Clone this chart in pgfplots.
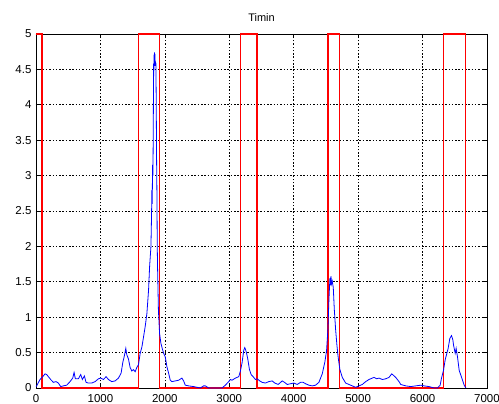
\documentclass[border=0pt]{standalone}
\usepackage{fontspec}
\setmainfont{Liberation Sans}
\usepackage{pgfplots}
\pgfplotsset{compat=1.18}
\definecolor{mred}{RGB}{255,0,0}
\definecolor{mblue}{RGB}{0,0,255}
\begin{document}
\begin{tikzpicture}
\begin{axis}[
  name=ax,
  scale only axis,
  width=451pt, height=354pt,
  xmin=0, xmax=7000, ymin=0, ymax=5,
  xtick={0,1000,...,7000},
  ytick={0,0.5,...,5},
  yticklabels={0,0.5,1,1.5,2,2.5,3,3.5,4,4.5,5},
  scaled ticks=false,
  /pgf/number format/1000 sep={},
  /pgf/number format/assume math mode=true,
  tick label style={font=\fontsize{11.5}{12}\selectfont},
  xticklabel style={yshift=-3pt},
  yticklabel style={xshift=-1pt},
  grid=major,
  grid style={black, line width=0.7pt, dash pattern=on 1.5pt off 1.8pt},
  tick align=inside,
  major tick length=4pt,
  tick style={black, line width=0.6pt},
  axis line style={black, line width=0.8pt},
  title={Timin},
  title style={font=\fontsize{11}{12}\selectfont, at={(0.5,1)}, anchor=south, yshift=3pt},
]
\addplot[draw=mred, line width=1.25pt] coordinates {(0,5) (95,5) (95,0) (1590,0) (1590,5) (1918,5) (1918,0) (3173,0) (3173,5) (3432,5) (3432,0) (4531,0) (4531,5) (4707,5) (4707,0) (6325,0) (6325,5) (6672,5) (6672,0)};
\addplot[draw=mblue, line width=0.8pt] coordinates {
(0,0.02) (10,0.03) (62,0.12) (114,0.17) (140,0.2) (166,0.19) (192,0.16) (228,0.12) (269,0.08) (311,0.09) (347,0.07) (383,0.02) (425,0.03) (477,0.04) (528,0.09) (570,0.14) (591,0.22) (611,0.13) (658,0.13) (694,0.19) (720,0.12) (751,0.17) (777,0.08) (813,0.07) (865,0.07) (917,0.09) (969,0.13) (1005,0.14) (1047,0.12) (1088,0.16) (1124,0.12) (1176,0.09) (1228,0.10) (1280,0.14) (1321,0.21) (1347,0.36) (1373,0.46) (1394,0.56) (1409,0.47) (1435,0.41) (1461,0.29) (1487,0.24) (1513,0.26) (1539,0.23) (1565,0.29) (1591,0.33) (1617,0.49) (1644,0.58) (1669,0.72) (1695,0.87) (1721,1.05) (1747,1.38) (1763,1.71) (1784,2.0) (1794,2.47) (1799,2.8) (1804,2.6) (1809,3.15) (1815,3.0) (1820,3.6) (1825,4.58) (1828,4.4) (1832,4.7) (1835,4.55) (1838,4.74) (1842,4.62) (1846,4.72) (1850,4.55) (1855,4.6) (1861,4.58) (1866,4.05) (1872,3.2) (1877,2.75) (1882,2.0) (1887,1.7) (1900,1.1) (1918,0.77) (1939,0.63) (1965,0.54) (1981,0.49) (2006,0.44) (2032,0.30) (2058,0.21) (2084,0.11) (2110,0.09) (2162,0.10) (2214,0.11) (2265,0.14) (2291,0.10) (2317,0.04) (2369,0.03) (2447,0.02) (2551,0.0) (2602,0.03) (2628,0.03) (2680,0.0) (2810,0.0) (2888,0.0) (2939,0.04) (2991,0.09) (3017,0.12) (3043,0.11) (3095,0.14) (3147,0.16) (3173,0.24) (3199,0.36) (3224,0.53) (3240,0.57) (3250,0.55) (3266,0.50) (3287,0.41) (3313,0.26) (3339,0.19) (3370,0.16) (3406,0.12) (3432,0.13) (3473,0.10) (3510,0.08) (3561,0.07) (3613,0.09) (3665,0.10) (3707,0.07) (3759,0.05) (3821,0.10) (3857,0.08) (3899,0.05) (3950,0.06) (4002,0.07) (4054,0.05) (4106,0.08) (4147,0.08) (4184,0.06) (4236,0.04) (4288,0.03) (4339,0.04) (4391,0.08) (4443,0.20) (4484,0.37) (4510,0.53) (4531,0.83) (4547,1.26) (4562,1.55) (4570,1.45) (4578,1.58) (4588,1.47) (4598,1.51) (4614,1.42) (4630,1.11) (4650,0.83) (4671,0.60) (4692,0.42) (4717,0.26) (4754,0.15) (4806,0.07) (4883,0.04) (4961,0.01) (5013,0.03) (5065,0.05) (5117,0.09) (5168,0.12) (5220,0.14) (5246,0.15) (5288,0.13) (5324,0.14) (5376,0.12) (5428,0.13) (5480,0.15) (5521,0.20) (5547,0.18) (5583,0.15) (5635,0.09) (5661,0.05) (5739,0.03) (5817,0.02) (5894,0.03) (5972,0.04) (6024,0.03) (6101,0.02) (6179,0.0) (6231,0.0) (6273,0.04) (6294,0.14) (6325,0.25) (6351,0.40) (6377,0.49) (6397,0.56) (6423,0.70) (6449,0.74) (6470,0.68) (6480,0.61) (6506,0.49) (6521,0.56) (6542,0.44) (6568,0.25) (6594,0.18) (6620,0.11) (6646,0.04) (6672,0.0)
};
\end{axis}
\pgfresetboundingbox
\path[use as bounding box] ([xshift=-36pt,yshift=-15pt]ax.south west) rectangle ([xshift=12pt,yshift=34pt]ax.north east);
\end{tikzpicture}
\end{document}
